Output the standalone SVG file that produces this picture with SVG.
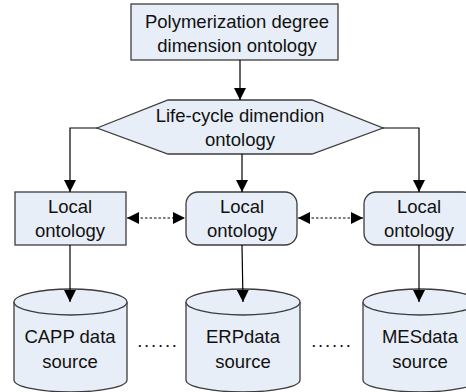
<svg xmlns="http://www.w3.org/2000/svg" width="466" height="392" viewBox="0 0 466 392">
  <defs>
    <marker id="arrowBig" viewBox="0 0 10 10" refX="10" refY="5" markerWidth="12" markerHeight="12" markerUnits="userSpaceOnUse" orient="auto-start-reverse">
      <path d="M0,0 L10,5 L0,10 z" fill="#000"/>
    </marker>
  </defs>
  <style>
    .shape { fill: #e8eef7; stroke: #3c3c3c; stroke-width: 1.3; }
    .label { font-family: "Liberation Sans", Arial, sans-serif; font-size: 18.5px; fill: #111; text-anchor: middle; }
    .link { fill: none; stroke: #000; stroke-width: 1.2; }
    .dashed { fill: none; stroke: #000; stroke-width: 1.2; stroke-dasharray: 2.5 2; }
  </style>

  <rect width="466" height="392" fill="#fff"/>

  <!-- top ontology -->
  <g id="polymerization">
    <rect class="shape" x="131" y="4" width="207" height="56"/>
    <text class="label" x="237" y="28">Polymerization degree</text>
    <text class="label" x="237" y="52">dimension ontology</text>
  </g>

  <!-- life-cycle ontology -->
  <g id="lifecycle">
    <polygon class="shape" points="97,128 168,100 312,100 383,128 312,154 168,154"/>
    <text class="label" x="240" y="122">Life-cycle dimendion</text>
    <text class="label" x="240" y="146">ontology</text>
  </g>

  <!-- local ontologies -->
  <g id="local-left">
    <rect class="shape" x="15" y="192" width="111" height="53"/>
    <text class="label" x="70" y="213">Local</text>
    <text class="label" x="70" y="237">ontology</text>
  </g>
  <g id="local-middle">
    <rect class="shape" x="186" y="192" width="111" height="53" rx="12" ry="12"/>
    <text class="label" x="242" y="213">Local</text>
    <text class="label" x="242" y="237">ontology</text>
  </g>
  <g id="local-right">
    <rect class="shape" x="364" y="192" width="111" height="53" rx="12" ry="12"/>
    <text class="label" x="419" y="213">Local</text>
    <text class="label" x="419" y="237">ontology</text>
  </g>

  <!-- data sources -->
  <g id="capp">
    <path class="shape" d="M14,302 L14,380 A56.5,12 0 0 0 127,380 L127,302"/>
    <ellipse class="shape" cx="70.5" cy="302" rx="56.5" ry="13"/>
    <text class="label" x="70" y="343">CAPP data</text>
    <text class="label" x="70" y="368">source</text>
  </g>
  <g id="erp">
    <path class="shape" d="M186,302 L186,380 A57,12 0 0 0 300,380 L300,302"/>
    <ellipse class="shape" cx="243" cy="302" rx="57" ry="13"/>
    <text class="label" x="243" y="343">ERPdata</text>
    <text class="label" x="243" y="368">source</text>
  </g>
  <g id="mes">
    <path class="shape" d="M363,302 L363,380 A57,12 0 0 0 477,380 L477,302"/>
    <ellipse class="shape" cx="420" cy="302" rx="57" ry="13"/>
    <text class="label" x="420" y="343">MESdata</text>
    <text class="label" x="420" y="368">source</text>
  </g>

  <!-- ellipses between sources -->
  <g id="gaps">
    <text class="label" x="158" y="347" style="letter-spacing:1.8px">......</text>
    <text class="label" x="332" y="347" style="letter-spacing:1.8px">......</text>
  </g>

  <!-- connectors, drawn over the shapes so arrowheads stay visible -->
  <g id="connectors">
    <line class="link" x1="240" y1="60" x2="240" y2="100" marker-end="url(#arrowBig)"/>
    <polyline class="link" points="97,128 70,128 70,192" marker-end="url(#arrowBig)"/>
    <line class="link" x1="242" y1="154" x2="242" y2="192" marker-end="url(#arrowBig)"/>
    <polyline class="link" points="383,128 419,128 419,192" marker-end="url(#arrowBig)"/>
    <line class="dashed" x1="127" y1="218" x2="185" y2="218" marker-start="url(#arrowBig)" marker-end="url(#arrowBig)"/>
    <line class="dashed" x1="298" y1="218" x2="363" y2="218" marker-start="url(#arrowBig)" marker-end="url(#arrowBig)"/>
    <line class="link" x1="70" y1="245" x2="70" y2="302" marker-end="url(#arrowBig)"/>
    <line class="link" x1="242" y1="245" x2="243" y2="302" marker-end="url(#arrowBig)"/>
    <line class="link" x1="419" y1="245" x2="419" y2="302" marker-end="url(#arrowBig)"/>
  </g>
</svg>
